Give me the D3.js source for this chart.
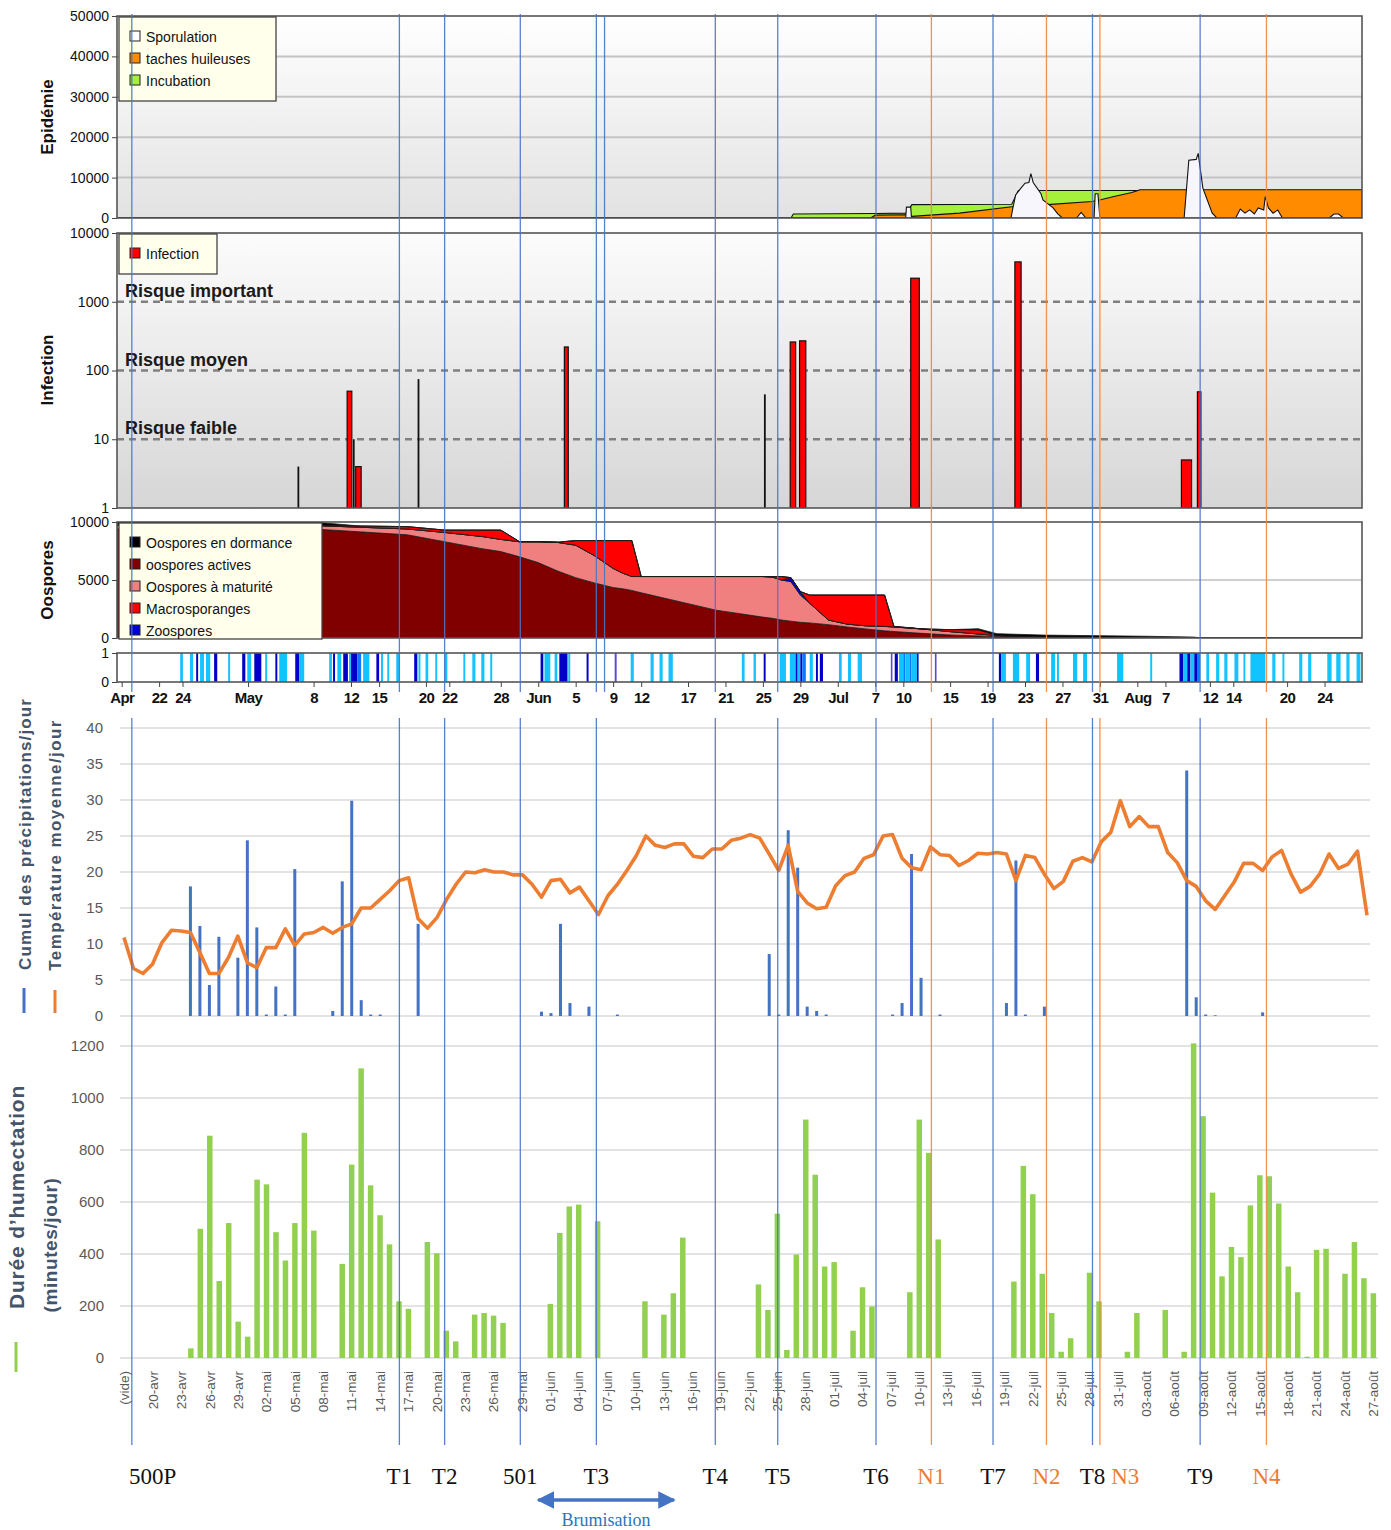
<!DOCTYPE html>
<html>
<head>
<meta charset="utf-8">
<script src="https://cdn.jsdelivr.net/npm/d3@7"></script>
<style>
  body { margin: 0; background: #fff; }
  svg { display: block; font-family: "Liberation Sans", Arial, sans-serif; }
</style>
</head>
<body>
<svg id="chart" width="1391" height="1530"></svg>
<script>
var YEAR = 2021;
var parseTime = d3.timeParse("%Y-%m-%d %H");
// "MM-DD" or "MM-DD HH"
function T(s) {
  return parseTime(YEAR + "-" + (s.length === 5 ? s + " 00" : s));
}

// ---------- date axis of the model panels ----------
var dateTicks = ["04-17 12", "04-21 12", "04-24", "05-01", "05-08", "05-12", "05-15", "05-20", "05-22 12", "05-28",
  "06-01", "06-05", "06-09", "06-12", "06-17", "06-21", "06-25", "06-29", "07-03", "07-07", "07-10",
  "07-15", "07-19", "07-23", "07-27", "07-31", "08-04", "08-07", "08-11 18", "08-14 06", "08-20", "08-24"];
var dateTickLabels = ["Apr", "22", "24", "May", "8", "12", "15", "20", "22", "28",
  "Jun", "5", "9", "12", "17", "21", "25", "29", "Jul", "7", "10",
  "15", "19", "23", "27", "31", "Aug", "7", "12", "14", "20", "24"];

// ---------- Epidémie ----------
var epiTicks = [0, 10000, 20000, 30000, 40000, 50000];
var incubDates = ["04-17", "06-28 00", "06-28 06", "07-07", "07-10 07", "07-10 22", "07-21 14", "07-22 07", "08-28"];
var incubValues = [0, 0, 1000, 1100, 1200, 3300, 3400, 6800, 6800];
var tachesDates = ["04-17", "07-06 12", "07-07", "07-10 07", "07-10 22", "07-16", "07-21 14", "07-22 07",
  "07-25 09", "07-30 04", "07-31 02", "08-01 12", "08-03 10", "08-04 07", "08-28"];
var tachesValues = [0, 0, 700, 800, 400, 1200, 2800, 2900, 3300, 4100, 4500, 5300, 6300, 7000, 7000];
var sporDates = ["04-17", "07-10 06", "07-10 08", "07-10 19", "07-10 21", "07-21 12", "07-21 17", "07-22 00",
  "07-22 12", "07-23 00", "07-23 10", "07-23 15", "07-23 21", "07-24 17", "07-24 22", "07-26 00", "07-26 12",
  "07-27 00", "07-28 12", "07-29 00", "07-29 12", "07-30 09", "07-30 12", "07-30 19", "07-31 00", "08-09 00",
  "08-09 12", "08-10 07", "08-10 12", "08-11 00", "08-12 00", "08-12 12", "08-14 12", "08-15 00", "08-15 12",
  "08-16 00", "08-16 12", "08-16 22", "08-17 12", "08-17 16", "08-18 00", "08-18 12", "08-19 00", "08-19 12",
  "08-24 12", "08-25 00", "08-25 12", "08-26 00", "08-28"];
var sporValues = [0, 0, 2700, 2700, 0, 0, 2500, 5700, 7200, 8600, 8800, 11000, 8800, 6000, 4500, 2500, 1000,
  0, 0, 1400, 0, 0, 6000, 6000, 0, 0, 14300, 14500, 16000, 7400, 1200, 0, 0, 2200, 1200, 2000, 1000, 2500,
  2000, 5300, 2500, 1200, 2000, 0, 0, 1000, 1000, 0, 0];
var epiLegend = ["Sporulation", "taches huileuses", "Incubation"];

// ---------- Infection ----------
var infTicks = [1, 10, 100, 1000, 10000];
var riskLevels = [1000, 100, 10];
var riskLabels = ["Risque important", "Risque moyen", "Risque faible"];
var infStart = ["05-06 09", "05-11 14", "05-12 07", "05-12 12", "05-19 05", "06-03 19", "06-25 05",
  "06-27 22", "06-28 22", "07-10 19", "07-21 22", "08-08 17", "08-10 10"];
var infEnd = ["05-06 10", "05-12 02", "05-12 08", "05-13 02", "05-19 06", "06-04 05", "06-25 06",
  "06-28 12", "06-29 14", "07-11 17", "07-22 14", "08-09 19", "08-10 19"];
var infValue = [4, 50, 10, 4, 75, 220, 45, 260, 270, 2200, 3800, 5, 49];
var infKind = ["trace", "infection", "trace", "infection", "trace", "infection", "trace",
  "infection", "infection", "infection", "infection", "infection", "infection"];

// ---------- Oospores ----------
var oosTicks = [0, 5000, 10000];
var oosDates = ["04-17", "05-08", "05-13", "05-18", "05-22", "05-26", "05-28", "05-30", "06-01", "06-03",
  "06-05", "06-07", "06-09", "06-10", "06-11", "06-12", "06-20", "06-25", "06-26", "06-27", "06-28",
  "06-29", "06-30", "07-02", "07-04", "07-06", "07-08", "07-09", "07-12", "07-15", "07-18", "07-20",
  "07-25", "08-05", "08-10", "08-11", "08-28"];
var oosActives = [9400, 9400, 9150, 8900, 8300, 7700, 7450, 7000, 6500, 5800, 5200, 4750, 4350, 4250, 4100,
  3900, 2400, 1800, 1700, 1550, 1450, 1350, 1300, 1150, 950, 780, 620, 560, 400, 260, 180, 140, 100, 30, 0, 0, 0];
var oosMaturite = [300, 300, 400, 500, 800, 1050, 1050, 1300, 1800, 2450, 2800, 2350, 1650, 1350, 1200, 1400,
  2900, 3500, 3550, 3450, 3400, 2350, 1700, 400, 250, 270, 380, 390, 380, 290, 170, 80, 0, 0, 0, 0, 0];
var oosZoospores = [0, 0, 0, 0, 0, 0, 0, 0, 0, 0, 0, 0, 0, 0, 0, 0, 0, 0, 0, 0, 350, 300, 0, 0, 0, 0, 0, 0,
  0, 0, 0, 0, 0, 0, 0, 0, 0];
var oosMacro = [0, 0, 100, 200, 200, 550, 800, 0, 0, 0, 400, 1300, 2400, 2800, 3100, 0, 0, 0, 50, 300, 0, 0,
  700, 2150, 2500, 2650, 2700, 50, 0, 170, 350, 0, 0, 0, 0, 0, 0];
var oosDormance = [300, 300, 0, 0, 0, 0, 0, 0, 0, 0, 0, 0, 0, 0, 0, 0, 0, 0, 0, 0, 0, 0, 0, 0, 0, 0, 0, 0,
  0, 0, 100, 150, 150, 120, 80, 0, 0];
var oosLegend = ["Oospores en dormance", "oospores actives", "Oospores à maturité", "Macrosporanges", "Zoospores"];

// ---------- wetness strip (1 light, 2 medium, 3 dark, 4 violet) ----------
var wetStart = ["04-23 18", "04-24 19", "04-25 11", "04-25 21", "04-26 12", "04-27 09", "04-28 21", "04-30 09",
  "04-30 22", "05-01 16", "05-02 20", "05-03 22", "05-04 08", "05-06 01", "05-06 11", "05-09 16", "05-10 02",
  "05-10 13", "05-11 04", "05-11 19", "05-12 00", "05-12 16", "05-13 07", "05-14 17", "05-15 05", "05-15 21",
  "05-16 20", "05-18 18", "05-19 05", "05-19 23", "05-21 00", "05-21 23", "05-24 00", "05-24 23", "05-25 22",
  "05-26 21", "06-01 06", "06-01 16", "06-02 18", "06-03 06", "06-04 05", "06-06 04", "06-09 04", "06-10 21",
  "06-13 00", "06-13 23", "06-14 22", "06-22 18", "06-24 00", "06-25 02", "06-26 19", "06-27 21", "06-28 12",
  "06-28 17", "06-29 00", "06-29 05", "06-30 00", "06-30 16", "07-01 02", "07-03 03", "07-04 02", "07-05 03",
  "07-08 16", "07-09 02", "07-09 13", "07-10 00", "07-10 05", "07-10 16", "07-10 21", "07-11 11", "07-13 09",
  "07-20 05", "07-20 11", "07-21 17", "07-23 03", "07-24 04", "07-25 19", "07-26 10", "07-28 03", "07-29 05",
  "08-01 20", "08-05 09", "08-08 12", "08-08 22", "08-09 08", "08-09 16", "08-10 02", "08-10 09", "08-11 09",
  "08-12 10", "08-13 07", "08-14 09", "08-15 08", "08-16 02", "08-18 10", "08-19 12", "08-21 07", "08-22 06",
  "08-24 07", "08-25 06", "08-26 08", "08-27 10"];
var wetEnd = ["04-24 01", "04-25 03", "04-25 16", "04-26 07", "04-26 23", "04-27 17", "04-29 02", "04-30 17",
  "05-01 08", "05-02 10", "05-03 01", "05-04 03", "05-05 04", "05-06 11", "05-07 00", "05-09 23", "05-10 07",
  "05-10 23", "05-11 16", "05-12 00", "05-12 16", "05-13 02", "05-13 23", "05-15 00", "05-15 10", "05-16 02",
  "05-17 04", "05-19 02", "05-19 10", "05-20 06", "05-21 05", "05-22 07", "05-24 05", "05-25 07", "05-26 06",
  "05-27 02", "06-01 13", "06-02 07", "06-03 01", "06-04 03", "06-04 10", "06-06 09", "06-09 09", "06-11 05",
  "06-13 08", "06-14 07", "06-15 09", "06-23 01", "06-24 06", "06-25 07", "06-27 11", "06-28 12", "06-28 17",
  "06-29 00", "06-29 05", "06-29 14", "06-30 08", "06-30 21", "07-01 10", "07-03 10", "07-04 10", "07-05 14",
  "07-08 19", "07-09 10", "07-10 00", "07-10 05", "07-10 16", "07-10 21", "07-11 11", "07-11 14", "07-13 12",
  "07-20 11", "07-20 23", "07-22 09", "07-23 13", "07-24 12", "07-26 05", "07-26 15", "07-28 14", "07-29 15",
  "08-02 12", "08-05 14", "08-08 22", "08-09 08", "08-09 16", "08-10 02", "08-10 09", "08-10 17", "08-11 16",
  "08-12 18", "08-13 15", "08-14 19", "08-15 13", "08-17 16", "08-18 18", "08-19 17", "08-21 15", "08-22 14",
  "08-24 18", "08-25 17", "08-26 16", "08-27 20"];
var wetLevel = [1, 1, 3, 1, 1, 3, 1, 3, 1, 3, 1, 3, 1, 3, 1, 1, 3, 1, 3, 1, 3, 2, 1, 3, 1, 1, 1, 3, 1, 1, 1, 1,
  1, 1, 1, 1, 3, 1, 1, 3, 1, 3, 4, 1, 1, 1, 1, 1, 1, 3, 1, 1, 3, 1, 3, 2, 1, 3, 3, 1, 1, 1, 4, 3, 1, 2, 1, 2,
  1, 3, 4, 3, 1, 1, 1, 3, 1, 1, 1, 1, 1, 1, 3, 1, 3, 1, 3, 2, 1, 1, 1, 1, 1, 1, 1, 1, 1, 1, 1, 1, 1, 1];

// ---------- weather, 18 Apr -> 27 Aug ----------
var tempTicks = [0, 5, 10, 15, 20, 25, 30, 35, 40];
var temperature = [10.9, 6.6, 5.9, 7.2, 10.2, 11.9, 11.8, 11.6, 8.8, 5.9,
  5.9, 8.1, 11.1, 7.4, 6.7, 9.5, 9.5, 12.1, 9.8, 11.4,
  11.6, 12.3, 11.5, 12.3, 12.8, 15.0, 15.0, 16.2, 17.4, 18.8,
  19.2, 13.5, 12.2, 13.7, 16.2, 18.3, 20.0, 19.9, 20.3, 20.0,
  20.0, 19.6, 19.6, 18.3, 16.5, 18.8, 19.0, 17.1, 17.9, 16.0,
  14.1, 16.7, 18.3, 20.2, 22.3, 25.0, 23.7, 23.4, 23.9, 23.9,
  22.2, 22.0, 23.2, 23.2, 24.4, 24.7, 25.2, 24.7, 22.5, 20.2,
  23.7, 17.3, 15.7, 14.9, 15.1, 18.1, 19.5, 20.0, 21.9, 22.4,
  25.0, 25.2, 21.9, 20.6, 20.3, 23.5, 22.4, 22.3, 20.9, 21.6,
  22.6, 22.5, 22.7, 22.5, 18.8, 22.3, 22.0, 19.7, 17.7, 18.7,
  21.5, 22.0, 21.4, 24.2, 25.5, 29.9, 26.3, 27.7, 26.3, 26.3,
  22.7, 21.3, 18.8, 18.0, 16.0, 14.8, 16.7, 18.6, 21.2, 21.2,
  20.2, 22.1, 23.0, 19.7, 17.2, 18.0, 19.7, 22.5, 20.5, 21.1,
  22.9, 14.0];
var rainfall = [0, 0, 0, 0, 0, 0, 0, 18.0, 12.5, 4.3,
  11.0, 0, 8.1, 24.4, 12.3, 0.2, 4.1, 0.2, 20.4, 0,
  0, 0, 0.7, 18.7, 29.9, 2.2, 0.2, 0.2, 0, 0,
  0, 12.8, 0, 0, 0, 0, 0, 0, 0, 0,
  0, 0, 0, 0, 0.6, 0.4, 12.8, 1.8, 0, 1.3,
  0, 0, 0.2, 0, 0, 0, 0, 0, 0, 0,
  0, 0, 0, 0, 0, 0, 0, 0, 8.6, 0.2,
  25.8, 20.6, 1.3, 0.7, 0.2, 0, 0, 0, 0, 0,
  0, 0.2, 1.8, 22.5, 5.3, 0, 0.2, 0, 0, 0,
  0, 0, 0, 1.8, 21.6, 0.2, 0, 1.3, 0, 0,
  0, 0, 0, 0, 0, 0, 0, 0, 0, 0,
  0, 0, 34.1, 2.6, 0.2, 0.1, 0, 0, 0, 0,
  0.5, 0, 0, 0, 0, 0, 0, 0, 0, 0,
  0, 0];
var wetTicks = [0, 200, 400, 600, 800, 1000, 1200];
var wetDuration = [0, 0, 0, 0, 0, 0, 37, 497, 855, 296,
  519, 140, 82, 686, 668, 484, 375, 519, 866, 490,
  0, 0, 362, 744, 1114, 664, 549, 437, 218, 189,
  0, 446, 403, 105, 64, 0, 167, 173, 163, 135,
  0, 0, 0, 0, 208, 481, 583, 590, 0, 526,
  0, 0, 0, 0, 218, 0, 167, 249, 463, 0,
  0, 0, 0, 0, 0, 0, 283, 185, 555, 31,
  398, 917, 705, 352, 369, 0, 105, 272, 198, 0,
  0, 0, 253, 917, 789, 456, 0, 0, 0, 0,
  0, 0, 0, 294, 739, 630, 324, 173, 24, 76,
  0, 328, 218, 0, 0, 24, 173, 0, 0, 185,
  0, 24, 1210, 930, 636, 314, 427, 388, 587, 703,
  699, 594, 352, 253, 5, 416, 420, 0, 324, 446,
  307, 249];

// ---------- treatments ----------
var treatLabels = ["500P", "T1", "T2", "501", "T3", "T4", "T5", "T6", "N1", "T7", "N2", "T8", "N3", "T9", "N4"];
var treatDates = ["04-18 14", "05-17 04", "05-22 00", "05-30 02", "06-07 05", "06-19 22", "06-26 14", "07-07 02",
  "07-13 00", "07-19 14", "07-25 07", "07-30 05", "07-31 00", "08-10 17", "08-17 19"];
var extraLineDates = ["06-08 02"];
var brumisation = ["06-01 00", "06-15 12"];

// ================= drawing =================
var svg = d3.select("#chart");
var defs = svg.append("defs");

function vGrad(id, c0, c1) {
  var g = defs.append("linearGradient").attr("id", id)
    .attr("x1", 0).attr("y1", 0).attr("x2", 0).attr("y2", 1);
  g.append("stop").attr("offset", "0%").attr("stop-color", c0);
  g.append("stop").attr("offset", "100%").attr("stop-color", c1);
}
vGrad("bgEpi", "#ffffff", "#e2e2e2");
vGrad("bgInf", "#fcfcfc", "#d6d6d6");

var left = 117, right = 1362;
var xTop = d3.scaleTime().domain([T("04-17"), T("08-28")]).range([left, right]);

function clip(id, y0, y1) {
  defs.append("clipPath").attr("id", id).append("rect")
    .attr("x", left).attr("y", y0).attr("width", right - left).attr("height", y1 - y0);
}
function frame(y0, y1) {
  svg.append("rect").attr("x", left).attr("y", y0)
    .attr("width", right - left).attr("height", y1 - y0)
    .attr("fill", "none").attr("stroke", "#555").attr("stroke-width", 1.6);
}
function yAxis(scale, values, fmt) {
  var g = svg.append("g").attr("transform", "translate(" + left + ",0)")
    .call(d3.axisLeft(scale).tickValues(values).tickFormat(fmt).tickSize(5).tickPadding(3));
  g.select(".domain").remove();
  g.selectAll("line").attr("stroke", "#444");
  g.selectAll("text").style("font-size", "14px").style("font-family", "Liberation Sans, Arial").attr("fill", "#111");
}
function vTitle(text, x, y, size, color) {
  return svg.append("text")
    .attr("transform", "translate(" + x + "," + y + ") rotate(-90)")
    .attr("text-anchor", "middle").attr("dy", "0.35em")
    .style("font-size", size + "px").style("font-weight", "bold")
    .attr("fill", color).text(text);
}
function legendBox(x, y, w, h, labels, colors) {
  var g = svg.append("g");
  g.append("rect").attr("x", x).attr("y", y).attr("width", w).attr("height", h)
    .attr("fill", "#ffffec").attr("stroke", "#444").attr("stroke-width", 1.3);
  var it = g.selectAll("g.it").data(labels).join("g")
    .attr("transform", function (d, i) { return "translate(" + (x + 11) + "," + (y + 20 + i * 22) + ")"; });
  it.append("rect").attr("x", 0).attr("y", -6).attr("width", 10).attr("height", 10)
    .attr("fill", function (d, i) { return colors[i]; }).attr("stroke", "#222");
  it.append("text").attr("x", 16).attr("dy", "0.33em").style("font-size", "14px").attr("fill", "#111")
    .text(function (d) { return d; });
}

// ----- Epidémie panel -----
var yEpi = d3.scaleLinear().domain([0, 50000]).range([218, 16]);
svg.append("rect").attr("x", left).attr("y", 16).attr("width", right - left).attr("height", 202).attr("fill", "url(#bgEpi)");
svg.append("g").selectAll("line").data(epiTicks.slice(1, -1)).join("line")
  .attr("x1", left).attr("x2", right).attr("y1", yEpi).attr("y2", yEpi)
  .attr("stroke", "#c4c4c4").attr("stroke-width", 2);
clip("cEpi", 16, 218);
var epiArea = d3.area().x(function (d) { return xTop(d.t); }).y0(yEpi(0)).y1(function (d) { return yEpi(d.v); });
var epiLayers = [
  { dates: incubDates, values: incubValues, fill: "#a4f03a" },
  { dates: tachesDates, values: tachesValues, fill: "#ff8c00" },
  { dates: sporDates, values: sporValues, fill: "#f6f6fc" }
];
var gEpi = svg.append("g").attr("clip-path", "url(#cEpi)");
epiLayers.forEach(function (L) {
  var pts = L.dates.map(function (d, i) { return { t: T(d), v: L.values[i] }; });
  gEpi.append("path").datum(pts).attr("d", epiArea)
    .attr("fill", L.fill).attr("stroke", "#111").attr("stroke-width", 1.1);
});
frame(16, 218);
yAxis(yEpi, epiTicks, d3.format("d"));
legendBox(119, 17, 157, 84, epiLegend, ["#ffffff", "#ff8c00", "#a4f03a"]);
vTitle("Epidémie", 47, 117, 17, "#111");

// ----- Infection panel -----
var yInf = d3.scaleLog().domain([1, 10000]).range([508, 233]);
svg.append("rect").attr("x", left).attr("y", 233).attr("width", right - left).attr("height", 275).attr("fill", "url(#bgInf)");
svg.append("g").selectAll("line").data(riskLevels).join("line")
  .attr("x1", left).attr("x2", right).attr("y1", yInf).attr("y2", yInf)
  .attr("stroke", "#808080").attr("stroke-width", 2.6).attr("stroke-dasharray", "7,5");
svg.append("g").selectAll("text").data(riskLabels).join("text")
  .attr("x", 125).attr("y", function (d, i) { return yInf(riskLevels[i]) - 5; })
  .style("font-size", "18px").style("font-weight", "bold").attr("fill", "#1a1a1a")
  .text(function (d) { return d; });
clip("cInf", 233, 508);
var infEvents = infStart.map(function (s, i) {
  return { t0: T(s), t1: T(infEnd[i]), v: infValue[i], kind: infKind[i] };
});
var gInf = svg.append("g").attr("clip-path", "url(#cInf)");
gInf.selectAll("rect").data(infEvents.filter(function (d) { return d.kind === "infection"; })).join("rect")
  .attr("x", function (d) { return xTop(d.t0); })
  .attr("width", function (d) { return Math.max(3, xTop(d.t1) - xTop(d.t0)); })
  .attr("y", function (d) { return yInf(d.v); })
  .attr("height", function (d) { return yInf(1) - yInf(d.v); })
  .attr("fill", "#ff0000").attr("stroke", "#111").attr("stroke-width", 1.2);
gInf.selectAll("line").data(infEvents.filter(function (d) { return d.kind === "trace"; })).join("line")
  .attr("x1", function (d) { return xTop(d.t0); }).attr("x2", function (d) { return xTop(d.t0); })
  .attr("y1", yInf(1)).attr("y2", function (d) { return yInf(d.v); })
  .attr("stroke", "#111").attr("stroke-width", 1.8);
frame(233, 508);
yAxis(yInf, infTicks, d3.format("d"));
legendBox(119, 234, 98, 40, ["Infection"], ["#ff0000"]);
vTitle("Infection", 47, 370, 17, "#111");

// ----- Oospores panel -----
var yOos = d3.scaleLinear().domain([0, 10000]).range([638, 522]);
svg.append("rect").attr("x", left).attr("y", 522).attr("width", right - left).attr("height", 116).attr("fill", "#fff");
svg.append("line").attr("x1", left).attr("x2", right).attr("y1", yOos(5000)).attr("y2", yOos(5000))
  .attr("stroke", "#cfcfcf").attr("stroke-width", 2);
clip("cOos", 522, 638);
var oosKeys = ["actives", "maturite", "zoospores", "macro", "dormance"];
var oosFill = { actives: "#800000", maturite: "#f08080", zoospores: "#0000dd", macro: "#ff0000", dormance: "#000000" };
var oosRows = oosDates.map(function (d, i) {
  return { t: T(d), actives: oosActives[i], maturite: oosMaturite[i], zoospores: oosZoospores[i],
    macro: oosMacro[i], dormance: oosDormance[i] };
});
var oosStack = d3.stack().keys(oosKeys)(oosRows);
var oosArea = d3.area().x(function (d) { return xTop(d.data.t); })
  .y0(function (d) { return yOos(d[0]); }).y1(function (d) { return yOos(d[1]); });
svg.append("g").attr("clip-path", "url(#cOos)").selectAll("path").data(oosStack).join("path")
  .attr("d", oosArea).attr("fill", function (d) { return oosFill[d.key]; })
  .attr("stroke", "#1a1a1a").attr("stroke-width", 0.8);
frame(522, 638);
yAxis(yOos, oosTicks, d3.format("d"));
legendBox(119, 523, 203, 116, oosLegend, ["#000000", "#800000", "#f08080", "#ff0000", "#0000dd"]);
vTitle("Oospores", 47, 580, 17, "#111");

// ----- wetness strip -----
var yWet = d3.scaleLinear().domain([0, 1]).range([682, 653]);
var wetColor = ["", "#12c3ff", "#0a78ff", "#0000c8", "#5a48d8"];
svg.append("rect").attr("x", left).attr("y", 653).attr("width", right - left).attr("height", 29).attr("fill", "#fff");
svg.append("g").selectAll("rect").data(wetStart).join("rect")
  .attr("x", function (d) { return xTop(T(d)); })
  .attr("width", function (d, i) { return Math.max(1.6, xTop(T(wetEnd[i])) - xTop(T(d))); })
  .attr("y", yWet(1)).attr("height", yWet(0) - yWet(1))
  .attr("fill", function (d, i) { return wetColor[wetLevel[i]]; });
frame(653, 682);
yAxis(yWet, [0, 1], d3.format("d"));

// date axis
var gDate = svg.append("g").attr("transform", "translate(0,682)")
  .call(d3.axisBottom(xTop).tickValues(dateTicks.map(T))
    .tickFormat(function (d, i) { return dateTickLabels[i]; }).tickSize(5).tickPadding(5));
gDate.select(".domain").remove();
gDate.selectAll("line").attr("stroke", "#444");
gDate.selectAll("text").style("font-size", "15px").style("font-weight", "bold")
  .style("letter-spacing", "-0.6px").attr("fill", "#111");

// ----- temperature / rainfall panel -----
var days = d3.timeDay.range(T("04-18"), T("08-28"));
var xTemp = d3.scalePoint().domain(days).range([124, 1367]);
var yTemp = d3.scaleLinear().domain([0, 40]).range([1016, 728]);
svg.append("g").selectAll("line").data(tempTicks).join("line")
  .attr("x1", 120).attr("x2", 1370).attr("y1", yTemp).attr("y2", yTemp)
  .attr("stroke", "#dadada").attr("stroke-width", 1.6);
svg.append("g").selectAll("text").data(tempTicks).join("text")
  .attr("x", 103).attr("y", yTemp).attr("dy", "0.35em").attr("text-anchor", "end")
  .style("font-size", "15px").attr("fill", "#595959").text(function (d) { return d; });
svg.append("g").selectAll("rect").data(rainfall).join("rect")
  .attr("x", function (d, i) { return xTemp(days[i]) - 1.5; }).attr("width", 3)
  .attr("y", function (d) { return yTemp(d); })
  .attr("height", function (d) { return yTemp(0) - yTemp(d); })
  .attr("fill", "#4472c4");
svg.append("path").datum(temperature)
  .attr("d", d3.line().x(function (d, i) { return xTemp(days[i]); }).y(function (d) { return yTemp(d); }))
  .attr("fill", "none").attr("stroke", "#ed7d31").attr("stroke-width", 3.6).attr("stroke-linejoin", "round");
vTitle("Cumul des précipitations/jour", 25, 834, 17, "#44546a").style("letter-spacing", "1.1px");
vTitle("Température moyenne/jour", 55, 845, 17, "#44546a").style("letter-spacing", "1.4px");
svg.append("line").attr("x1", 24).attr("x2", 24).attr("y1", 988).attr("y2", 1013).attr("stroke", "#4472c4").attr("stroke-width", 3);
svg.append("line").attr("x1", 55).attr("x2", 55).attr("y1", 990).attr("y2", 1013).attr("stroke", "#ed7d31").attr("stroke-width", 3);

// ----- wetness duration panel -----
var frDay = d3.timeFormatLocale({
  dateTime: "%A %e %B %Y à %X", date: "%d/%m/%Y", time: "%H:%M:%S", periods: ["AM", "PM"],
  days: ["dimanche", "lundi", "mardi", "mercredi", "jeudi", "vendredi", "samedi"],
  shortDays: ["dim.", "lun.", "mar.", "mer.", "jeu.", "ven.", "sam."],
  months: ["janvier", "février", "mars", "avril", "mai", "juin", "juillet", "août", "septembre", "octobre", "novembre", "décembre"],
  shortMonths: ["janv", "févr", "mars", "avr", "mai", "juin", "juil", "août", "sept", "oct", "nov", "déc"]
}).format("%d-%b");
var humCats = ["(vide)"].concat(days.map(frDay));
var xHum = d3.scaleBand().domain(humCats).range([120, 1378]).paddingInner(0.42).paddingOuter(0.2);
var yHum = d3.scaleLinear().domain([0, 1200]).range([1358, 1046]);
svg.append("g").selectAll("line").data(wetTicks).join("line")
  .attr("x1", 120).attr("x2", 1378).attr("y1", yHum).attr("y2", yHum)
  .attr("stroke", "#dadada").attr("stroke-width", 1.6);
svg.append("g").selectAll("text").data(wetTicks).join("text")
  .attr("x", 104).attr("y", yHum).attr("dy", "0.35em").attr("text-anchor", "end")
  .style("font-size", "15px").attr("fill", "#595959").text(function (d) { return d; });
svg.append("g").selectAll("rect").data(wetDuration).join("rect")
  .attr("x", function (d, i) { return xHum(humCats[i + 1]); }).attr("width", xHum.bandwidth())
  .attr("y", function (d) { return yHum(d); })
  .attr("height", function (d) { return yHum(0) - yHum(d); })
  .attr("fill", "#92d050");
svg.append("g").selectAll("text").data(humCats.filter(function (c, i) { return i % 3 === 0; })).join("text")
  .attr("transform", function (c) { return "translate(" + (xHum(c) + xHum.bandwidth() / 2) + ",1371) rotate(-90)"; })
  .attr("text-anchor", "end").attr("dy", "0.35em")
  .style("font-size", "13.5px").attr("fill", "#595959").text(function (c) { return c; });
vTitle("Durée d’humectation", 17, 1197, 21, "#44546a").style("letter-spacing", "0.8px");
vTitle("(minutes/jour)", 50, 1245, 19, "#44546a").style("letter-spacing", "0.6px");
svg.append("line").attr("x1", 16).attr("x2", 16).attr("y1", 1342).attr("y2", 1372).attr("stroke", "#92d050").attr("stroke-width", 3);

// ----- treatment lines (drawn over the whole figure) -----
var treat = treatDates.map(function (d, i) {
  return { t: T(d), label: treatLabels[i], nitro: treatLabels[i].charAt(0) === "N" };
});
var lineColor = function (d) { return d.nitro ? "#f0883e" : "#4a74c9"; };
var gLines = svg.append("g");
[[14, 692], [718, 1445]].forEach(function (seg) {
  gLines.append("g").selectAll("line").data(treat).join("line")
    .attr("x1", function (d) { return xTop(d.t); }).attr("x2", function (d) { return xTop(d.t); })
    .attr("y1", seg[0]).attr("y2", seg[1])
    .attr("stroke", lineColor).attr("stroke-width", 1.3).attr("opacity", 0.9);
});
gLines.append("g").selectAll("line").data(extraLineDates).join("line")
  .attr("x1", function (d) { return xTop(T(d)); }).attr("x2", function (d) { return xTop(T(d)); })
  .attr("y1", 16).attr("y2", 692).attr("stroke", "#4a74c9").attr("stroke-width", 1.3).attr("opacity", 0.9);

// labels under the figure, pushed apart where they collide
var labels = svg.append("g").selectAll("text").data(treat).join("text")
  .attr("y", 1484).attr("text-anchor", "middle")
  .style("font-family", "Liberation Serif, Times New Roman, serif").style("font-size", "23px")
  .attr("fill", function (d) { return d.nitro ? "#ed7d31" : "#111"; })
  .text(function (d) { return d.label; });
var prevRight = 129 - 6;
labels.each(function (d) {
  var w = this.getComputedTextLength();
  var l = Math.max(xTop(d.t) - w / 2, prevRight + 6);
  d3.select(this).attr("x", l + w / 2);
  prevRight = l + w;
});

// brumisation arrow
var mk = defs.append("marker").attr("id", "arr").attr("viewBox", "0 0 10 10").attr("refX", 9).attr("refY", 5)
  .attr("markerWidth", 5).attr("markerHeight", 5).attr("orient", "auto-start-reverse");
mk.append("path").attr("d", "M0,0L10,5L0,10Z").attr("fill", "#4472c4");
var bx0 = xTop(T(brumisation[0])), bx1 = xTop(T(brumisation[1]));
svg.append("line").attr("x1", bx0).attr("x2", bx1).attr("y1", 1500).attr("y2", 1500)
  .attr("stroke", "#4472c4").attr("stroke-width", 3.5)
  .attr("marker-start", "url(#arr)").attr("marker-end", "url(#arr)");
svg.append("text").attr("x", (bx0 + bx1) / 2).attr("y", 1526).attr("text-anchor", "middle")
  .style("font-family", "Liberation Serif, Times New Roman, serif").style("font-size", "18px")
  .attr("fill", "#2e75b6").text("Brumisation");
</script>
</body>
</html>
